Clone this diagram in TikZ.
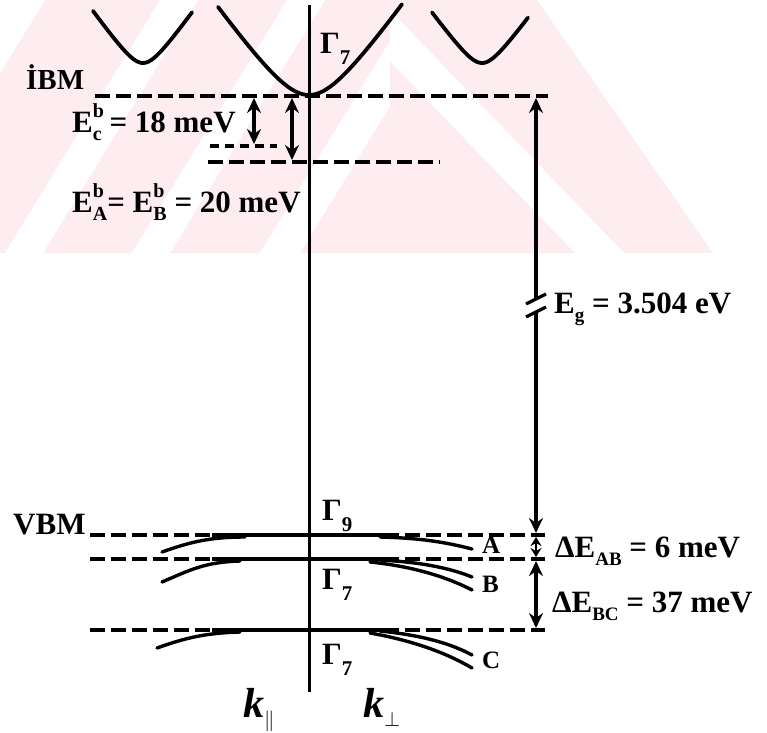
\documentclass[tikz,border=0pt]{standalone}
\usepackage{fontspec}
\setmainfont{Liberation Serif}
\usetikzlibrary{arrows.meta}
\definecolor{wm}{RGB}{253,237,240}
\newcommand\Sb[2]{#1\makebox[0pt][l]{\raisebox{15pt}{\fontsize{20}{20}\selectfont b}}\raisebox{-8pt}{\fontsize{20}{20}\selectfont #2}}
\newcommand\Sub[1]{\raisebox{-8pt}{\fontsize{19}{19}\selectfont #1}}
\newcommand\Gsub[1]{\raisebox{-11pt}{\fontsize{21}{21}\selectfont #1}}
\begin{document}
\begin{tikzpicture}[x=1pt,y=-1pt,
  curve/.style={line width=3.8pt, line cap=round},
  lvl/.style={line width=4pt, dash pattern=on 15pt off 6pt},
  lvlshort/.style={line width=3.5pt, dash pattern=on 9pt off 6pt},
  bandflat/.style={line width=4.5pt},
  bandline/.style={line width=3.4pt, line cap=round},
  axisline/.style={line width=3pt},
  arr/.style={line width=3.2pt},
  dbl/.style={arr, {Stealth[length=15pt,width=14pt,inset=5pt]}-{Stealth[length=15pt,width=14pt,inset=5pt]}},
  dblsmall/.style={line width=2.6pt, {Stealth[length=9pt,width=11pt,inset=3pt]}-{Stealth[length=9pt,width=11pt,inset=3pt]}},
  lbl/.style={font=\fontsize{31}{32}\selectfont\bfseries, inner sep=0pt, anchor=base west}]
\useasboundingbox (0,0) rectangle (767,732);
% watermark
\fill[wm] (0,0) -- (537,0) -- (713,253) -- (0,253) -- cycle;
\begin{scope}
\clip (0,0) rectangle (390,253);
\foreach \a/\w in {-10/55,160/38,287/38,415/40}{
  \fill[white] (\a,0) -- (\a+\w,0) -- (\a+\w-155,253) -- (\a-155,253) -- cycle;}
\end{scope}
\begin{scope}
\clip (390,0) rectangle (767,253);
\fill[white] (331,0) -- (380,0) -- (624,253) -- (575,253) -- cycle;
\end{scope}
% conduction bands
\draw[curve] plot[domain=-91:93, samples=60] ({309+\x},{95-1.41*(sqrt(35*35+\x*\x)-35)});
\draw[curve] plot[domain=-50:49, samples=40] ({143+\x},{63-1.40*(sqrt(15*15+\x*\x)-15)});
\draw[curve] plot[domain=-50:46, samples=40] ({482+\x},{63-1.36*(sqrt(15*15+\x*\x)-15)});
% axis
\coordinate (axT) at (309,5);
\coordinate (axB) at (309,692);
\draw[axisline] (axT) -- (axB);
% exciton levels
\coordinate (ibmL) at (95,96);
\coordinate (ibmR) at (548,96);
\draw[lvl] (ibmL) -- (ibmR);
\coordinate (ecL) at (210,146);
\coordinate (ecR) at (277,146);
\draw[lvlshort] (ecL) -- (ecR);
\coordinate (abL) at (208,162);
\coordinate (abR) at (440,162);
\draw[lvl] (abL) -- (abR);
\coordinate (ecT) at (254,98);
\coordinate (ecB) at (254,144);
\draw[dbl] (ecT) -- (ecB);
\coordinate (abT) at (292,98);
\coordinate (abB) at (292,160);
\draw[dbl] (abT) -- (abB);
% band gap arrow
\coordinate (egT) at (536,98);
\coordinate (egM1) at (536,299);
\coordinate (egM2) at (536,312);
\coordinate (egB) at (536,533);
\draw[arr, {Stealth[length=15pt,width=14pt,inset=5pt]}-] (egT) -- (egM1);
\draw[arr] ([shift={(-10,5)}]egM1) -- ([shift={(10,-5)}]egM1);
\draw[arr] ([shift={(-10,5)}]egM2) -- ([shift={(10,-5)}]egM2);
\draw[arr, -{Stealth[length=15pt,width=14pt,inset=5pt]}] (egM2) -- (egB);
% valence levels
\coordinate (vaL) at (90,535);
\coordinate (vaR) at (545,535);
\coordinate (vbL) at (90,559);
\coordinate (vbR) at (545,559);
\coordinate (vcL) at (90,630);
\coordinate (vcR) at (545,630);
\draw[lvl] (vaL) -- (vaR);
\draw[lvl] (vbL) -- (vbR);
\draw[lvl] (vcL) -- (vcR);
% valence bands
\draw[bandflat] (212,535) -- (398,535);
\draw[bandline] (162,552) .. controls (190,542) and (210,537) .. (245,537);
\draw[bandline] (380,537) .. controls (420,538) and (445,542) .. (472,549);
\draw[bandflat] (212,559) -- (395,559);
\draw[bandline] (162,582) .. controls (190,570) and (205,562) .. (240,561);
\draw[bandline] (380,560) .. controls (420,562) and (450,568) .. (472,577);
\draw[bandline] (370,562) .. controls (410,566) and (445,576) .. (472,590);
\draw[bandflat] (212,630) -- (390,630);
\draw[bandline] (157,648) .. controls (185,638) and (205,633) .. (240,632);
\draw[bandline] (380,631) .. controls (420,635) and (450,643) .. (472,655);
\draw[bandline] (370,633) .. controls (410,640) and (445,652) .. (472,668);
% gap arrows
\coordinate (dabT) at (536,537);
\coordinate (dabB) at (536,557);
\draw[dblsmall] (dabT) -- (dabB);
\coordinate (dbcT) at (536,561);
\coordinate (dbcB) at (536,628);
\draw[dbl] (dbcT) -- (dbcB);
% labels
\node[lbl, font=\fontsize{29}{29}\selectfont\bfseries] (ibm) at (26,89) {İBM};
\node[lbl] (ec) at (72,132) {\Sb{E}{c} = 18 meV};
\node[lbl] (eab) at (72,212) {\Sb{E}{A}= \Sb{E}{B} = 20 meV};
\node[lbl] (eg) at (554,313) {E\Sub{g} = 3.504 eV};
\node[lbl] (dab) at (555,557) {ΔE\Sub{AB} = 6 meV};
\node[lbl] (dbc) at (552,612) {ΔE\Sub{BC} = 37 meV};
\node[lbl] (vbm) at (13,534) {VBM};
\node[lbl] (g7top) at (320,53) {Γ\Gsub{7}};
\node[lbl] (g9) at (322,520) {Γ\Gsub{9}};
\node[lbl] (g7mid) at (322,589) {Γ\Gsub{7}};
\node[lbl] (g7low) at (322,664) {Γ\Gsub{7}};
\node[lbl, font=\fontsize{25}{25}\selectfont\bfseries] (la) at (482,553) {A};
\node[lbl, font=\fontsize{25}{25}\selectfont\bfseries] (lb) at (482,592) {B};
\node[lbl, font=\fontsize{25}{25}\selectfont\bfseries] (lc) at (482,668) {C};
\node[lbl, font=\fontsize{42}{42}\selectfont\bfseries\itshape] (kpar) at (243,717) {k\raisebox{-9pt}{\fontsize{22}{22}\selectfont\upshape$\parallel$}};
\node[lbl, font=\fontsize{42}{42}\selectfont\bfseries\itshape] (kperp) at (363,717) {k\raisebox{-9pt}{\fontsize{22}{22}\selectfont\upshape$\perp$}};
\end{tikzpicture}
\end{document}
